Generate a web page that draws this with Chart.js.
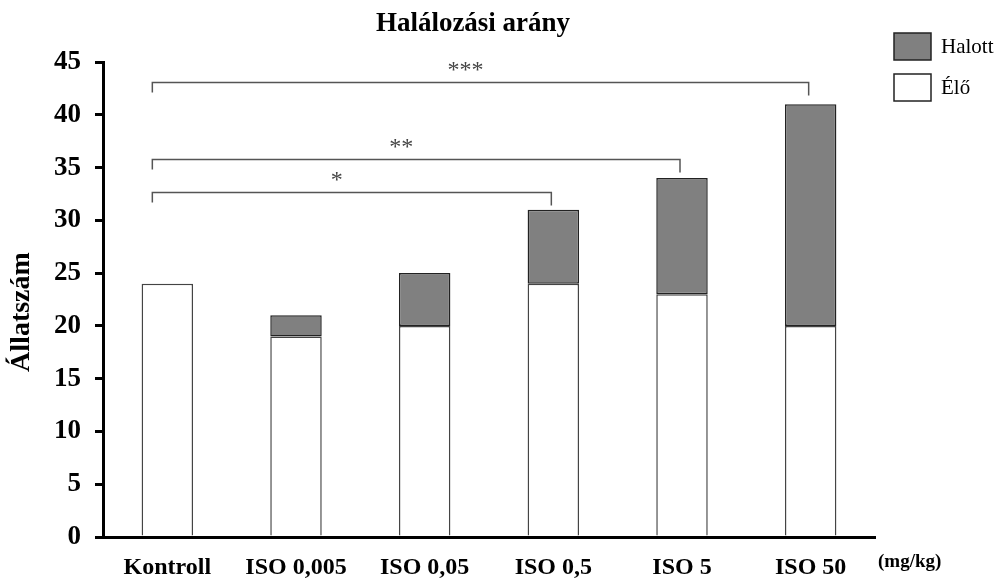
<!DOCTYPE html>
<html>
<head>
<meta charset="utf-8">
<script src="https://cdn.jsdelivr.net/npm/chart.js@4.4.1/dist/chart.umd.min.js"></script>
<style>
  html, body { margin:0; padding:0; background:#fff; }
  #wrap { width:1002px; height:578px; }
</style>
</head>
<body>
<div id="wrap"><canvas id="chart" width="1002" height="578"></canvas></div>
<script>
var categories = ["Kontroll", "ISO 0,005", "ISO 0,05", "ISO 0,5", "ISO 5", "ISO 50"];
var eloValues = [24, 19, 20, 24, 23, 20];
var halottValues = [0, 2, 5, 7, 11, 21];
var yTicks = [0, 5, 10, 15, 20, 25, 30, 35, 40, 45];

// significance brackets: from/to are category indexes, y is the value level
var brackets = [
    {from:0, to:3, y:32.7, label:"*"},
    {from:0, to:4, y:35.8, label:"**"},
    {from:0, to:5, y:43.1, label:"***"}
];

var serif = "'Liberation Serif', 'Times New Roman', serif";

var extras = {
    id: "extras",
    afterDraw: function(chart) {
        var ctx = chart.ctx;
        var x = chart.scales.x;
        var y = chart.scales.y;

        // title
        ctx.save();
        ctx.fillStyle = "#000";
        ctx.font = "bold 27px " + serif;
        ctx.textAlign = "center";
        ctx.textBaseline = "middle";
        ctx.fillText("Halálozási arány", 473, 24);

        // y axis title
        ctx.translate(22, 312);
        ctx.rotate(-Math.PI/2);
        ctx.font = "bold 28px " + serif;
        ctx.fillText("Állatszám", 0, 0);
        ctx.restore();

        // unit
        ctx.save();
        ctx.fillStyle = "#000";
        ctx.font = "bold 19px " + serif;
        ctx.textAlign = "left";
        ctx.textBaseline = "middle";
        ctx.fillText("(mg/kg)", 878, 562);
        ctx.restore();

        // brackets
        ctx.save();
        ctx.strokeStyle = "#555";
        ctx.lineWidth = 1.5;
        ctx.fillStyle = "#444";
        ctx.font = "24px " + serif;
        ctx.textAlign = "center";
        ctx.textBaseline = "middle";
        brackets.forEach(function(b) {
            var x1 = x.getPixelForValue(b.from) - 15;
            var x2 = x.getPixelForValue(b.to) - 2;
            var yy = Math.round(y.getPixelForValue(b.y)) + 0.5;
            ctx.beginPath();
            ctx.moveTo(x1, yy + 10);
            ctx.lineTo(x1, yy);
            ctx.lineTo(x2, yy);
            ctx.lineTo(x2, yy + 13);
            ctx.stroke();
            ctx.fillText(b.label, (x1 + x2)/2 - 15, yy - 12);
        });
        ctx.restore();

        // legend (Halott on top)
        ctx.save();
        var ds = chart.data.datasets.slice().reverse();
        ds.forEach(function(d, i) {
            var top = 33 + i*41;
            ctx.fillStyle = d.backgroundColor;
            ctx.fillRect(894, top, 37, 27);
            ctx.strokeStyle = "#222";
            ctx.lineWidth = 1.5;
            ctx.strokeRect(894, top, 37, 27);
            ctx.fillStyle = "#000";
            ctx.font = "21px " + serif;
            ctx.textAlign = "left";
            ctx.textBaseline = "middle";
            ctx.fillText(d.label, 941, top + 14);
        });
        ctx.restore();
    }
};

new Chart(document.getElementById("chart"), {
    type: "bar",
    data: {
        labels: categories,
        datasets: [
            {
                label: "Élő",
                data: eloValues,
                backgroundColor: "#ffffff",
                borderColor: "#444",
                borderWidth: 1.5,
                borderSkipped: "bottom",
                barPercentage: 0.4,
                categoryPercentage: 1
            },
            {
                label: "Halott",
                data: halottValues,
                backgroundColor: "#808080",
                borderColor: "#222",
                borderWidth: function(c) { return c.raw ? 1.5 : 0; },
                borderSkipped: false,
                barPercentage: 0.4,
                categoryPercentage: 1
            }
        ]
    },
    options: {
        responsive: false,
        animation: false,
        devicePixelRatio: 1,
        layout: { padding: { top: 62, right: 127, left: 0, bottom: 0 } },
        plugins: {
            legend: { display: false },
            title: { display: false },
            tooltip: { enabled: false }
        },
        scales: {
            x: {
                stacked: true,
                grid: { display: false },
                border: { display: true, width: 3, color: "#000" },
                ticks: {
                    color: "#000",
                    font: { family: serif, size: 24, weight: "bold" },
                    padding: 8,
                    maxRotation: 0
                },
                afterFit: function(s) { s.height = 41; }
            },
            y: {
                stacked: true,
                min: 0,
                max: 45,
                afterBuildTicks: function(s) { s.ticks = yTicks.map(function(v) { return {value:v}; }); },
                grid: { display: true, drawOnChartArea: false, drawTicks: true, tickLength: 8, lineWidth: 3, color: "#000" },
                border: { display: true, width: 3, color: "#000" },
                ticks: {
                    color: "#000",
                    font: { family: serif, size: 27, weight: "bold" },
                    padding: 14
                },
                afterFit: function(s) { s.width = 103; }
            }
        }
    },
    plugins: [extras]
});
</script>
</body>
</html>
